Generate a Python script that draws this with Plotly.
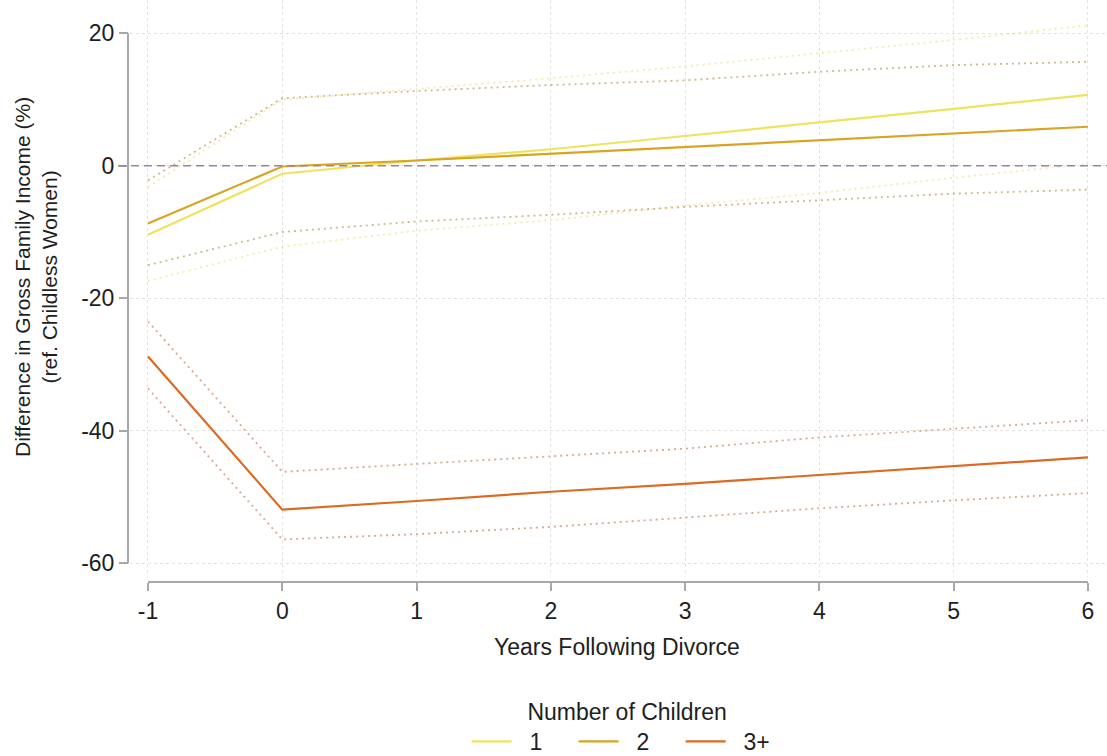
import plotly.graph_objects as go

# ---------------- data ----------------
years = [-1, 0, 1, 2, 3, 4, 5, 6]
series_names = ["1", "2", "3+"]

est_1 = [-10.4, -1.2, 0.8, 2.5, 4.5, 6.5, 8.6, 10.7]
hi_1 = [-3.2, 10.0, 11.6, 13.2, 15.0, 17.0, 19.0, 21.2]
lo_1 = [-17.4, -12.2, -9.8, -8.2, -6.0, -4.1, -1.8, 0.3]

est_2 = [-8.7, -0.1, 0.8, 1.8, 2.9, 3.9, 4.9, 5.9]
hi_2 = [-2.2, 10.2, 11.3, 12.2, 12.9, 14.2, 15.2, 15.7]
lo_2 = [-15.0, -10.0, -8.4, -7.4, -6.2, -5.2, -4.2, -3.6]

est_3 = [-28.8, -51.9, -50.6, -49.2, -48.0, -46.7, -45.3, -44.0]
hi_3 = [-23.5, -46.2, -45.0, -43.8, -42.7, -41.0, -39.7, -38.4]
lo_3 = [-33.6, -56.4, -55.6, -54.5, -53.1, -51.7, -50.5, -49.4]

x_ticks = [-1, 0, 1, 2, 3, 4, 5, 6]
y_ticks = [-60, -40, -20, 0, 20]

colors = ["#eee35c", "#d9a520", "#dc6a22"]
ci_colors = ["rgba(230,220,90,0.5)", "rgba(175,140,70,0.6)", "rgba(195,125,90,0.65)"]

# ---------------- layout geometry (pixels) ----------------
W, H = 1107, 756
FONT = "Liberation Sans, Arial, sans-serif"
TXT = "#1e1e1e"
FS = 23
NB = "\u00a0\u00a0"


def fx(p):
    return p / W


def fy(p):
    return 1 - p / H


fig = go.Figure()

ests = [est_1, est_2, est_3]
his = [hi_1, hi_2, hi_3]
los = [lo_1, lo_2, lo_3]

for i in range(3):
    for band in (his[i], los[i]):
        fig.add_trace(go.Scatter(
            x=years, y=band, mode="lines", showlegend=False, hoverinfo="skip",
            line=dict(color=ci_colors[i], width=1.8, dash="2px,4px"),
        ))

for i in range(3):
    fig.add_trace(go.Scatter(
        x=years, y=ests[i], mode="lines", name=NB + series_names[i],
        line=dict(color=colors[i], width=2.2),
    ))

# zero reference line
fig.add_shape(type="line", xref="paper", yref="y", x0=fx(118), x1=fx(1107), y0=0, y1=0,
              line=dict(color="#9a80ae", width=1.5, dash="8px,5px"), layer="above")

# axis lines (offset, Stata style)
fig.add_shape(type="line", xref="paper", yref="y", x0=fx(128), x1=fx(128), y0=-60, y1=20,
              line=dict(color="#a8a8a8", width=2))
fig.add_shape(type="line", xref="x", yref="paper", x0=-1, x1=6, y0=fy(582), y1=fy(582),
              line=dict(color="#a8a8a8", width=2))

fig.update_layout(
    width=W, height=H,
    margin=dict(l=0, r=0, t=0, b=0, autoexpand=False),
    paper_bgcolor="white", plot_bgcolor="white",
    font=dict(family=FONT, size=FS, color=TXT),
    xaxis=dict(
        domain=[fx(130), fx(1105)],
        range=[-1.134, 6.127],
        anchor="free", position=fy(582),
        tickvals=x_ticks, ticktext=[str(v) for v in x_ticks],
        ticks="outside", ticklen=8, tickwidth=1.5, tickcolor="#a8a8a8",
        showline=False, zeroline=False,
        showgrid=True, gridcolor="#e2e2e2", gridwidth=1, griddash="dot",
        tickfont=dict(size=FS, color=TXT),
    ),
    yaxis=dict(
        domain=[fy(577), 1],
        range=[-62.07, 25.03],
        anchor="free", position=fx(128),
        tickvals=y_ticks, ticktext=[str(v) for v in y_ticks],
        ticks="outside", ticklen=9, tickwidth=1.5, tickcolor="#a8a8a8",
        showline=False, zeroline=False,
        showgrid=True, gridcolor="#e2e2e2", gridwidth=1, griddash="dot",
        tickfont=dict(size=FS, color=TXT),
    ),
    legend=dict(
        orientation="h", x=0.5665, xanchor="center", y=fy(690), yanchor="top",
        title=dict(text="Number of Children", side="top center", font=dict(size=FS, color=TXT)),
        font=dict(size=FS, color=TXT),
        entrywidth=52, entrywidthmode="pixels",
        itemwidth=40, bgcolor="rgba(0,0,0,0)", tracegroupgap=0,
    ),
    showlegend=True,
)

fig.add_annotation(text="Years Following Divorce", xref="paper", yref="paper",
                   x=fx(617), y=fy(647), xanchor="center", yanchor="middle",
                   showarrow=False, font=dict(size=FS, color=TXT))
fig.add_annotation(text="Difference in Gross Family Income (%)<br>(ref. Childless Women)",
                   xref="paper", yref="paper", x=fx(36), y=fy(277),
                   xanchor="center", yanchor="middle", textangle=-90, showarrow=False,
                   font=dict(size=21, color=TXT))

fig.write_html("out.html", config={"displayModeBar": False},
               post_script="document.body.style.margin='0';")
